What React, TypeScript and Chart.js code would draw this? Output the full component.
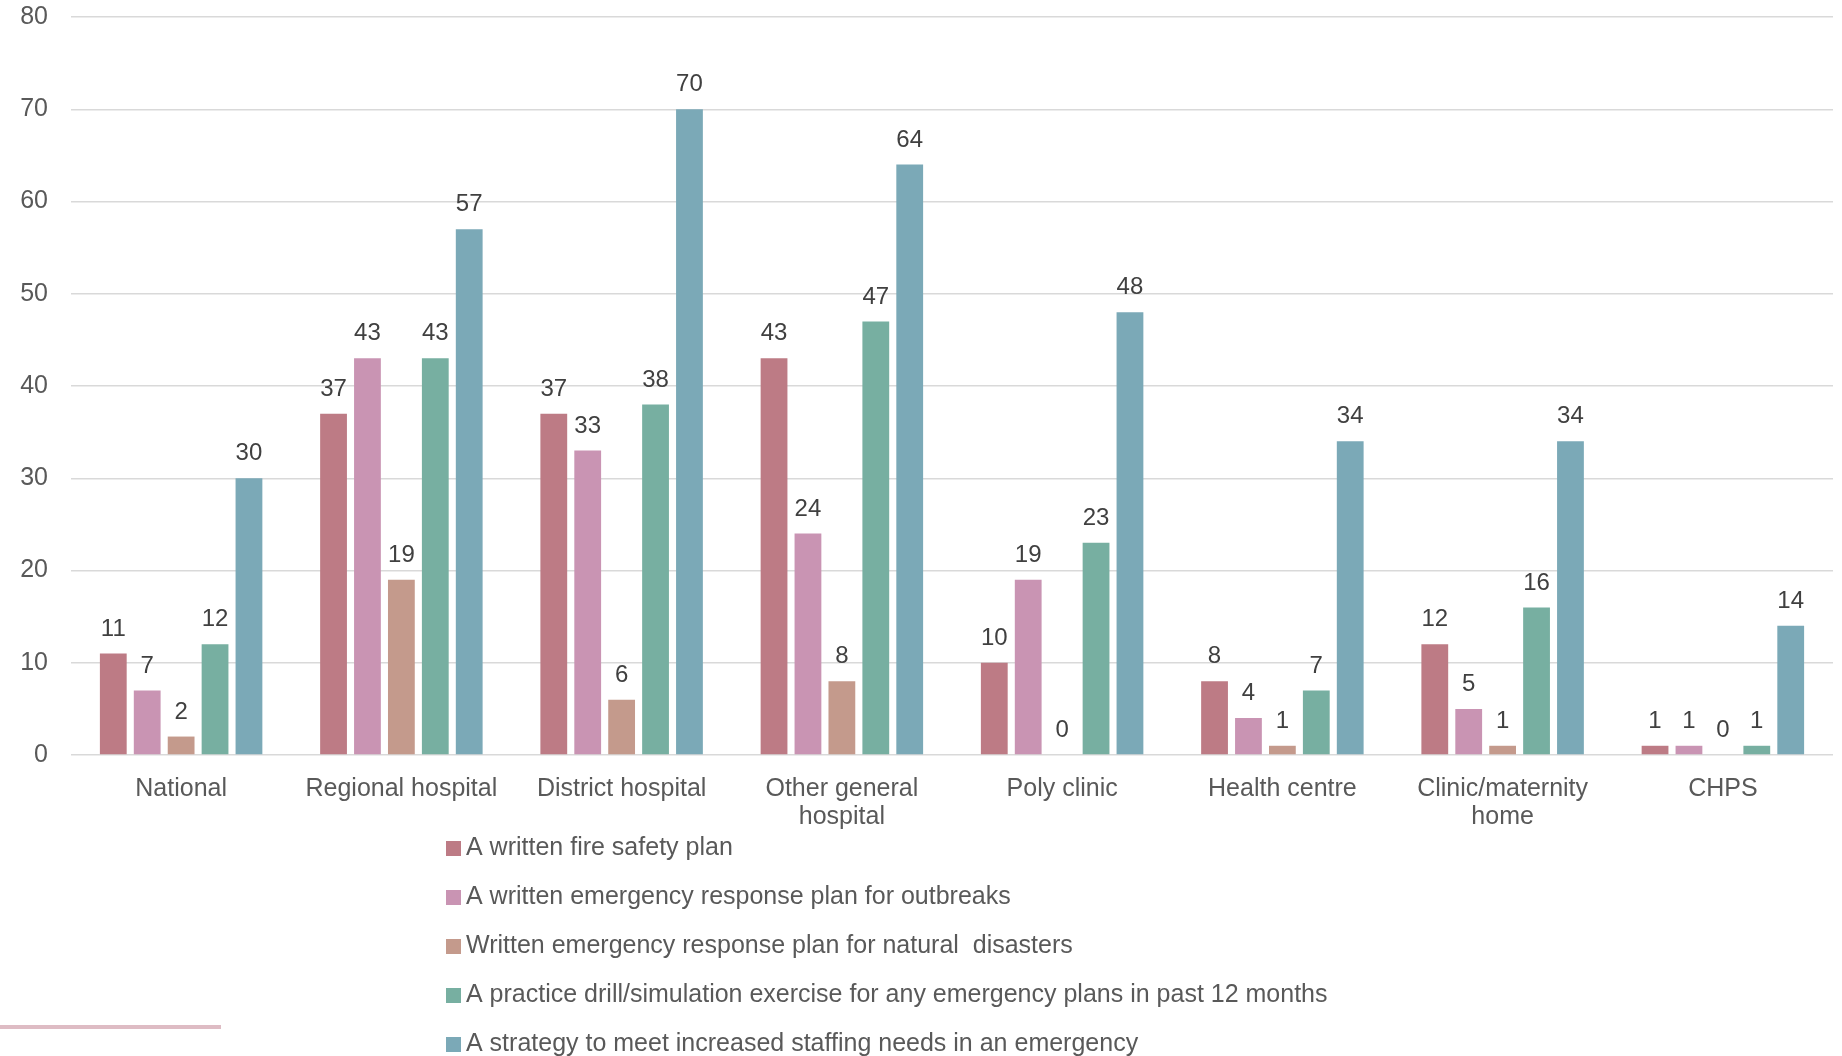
import React, { useEffect, useRef } from "react";
import { Chart, registerables } from "chart.js";

Chart.register(...registerables);

// Facility types (multi-line labels where the name wraps)
const categories: string[][] = [
  ["National"],
  ["Regional hospital"],
  ["District hospital"],
  ["Other general", "hospital"],
  ["Poly clinic"],
  ["Health centre"],
  ["Clinic/maternity", "home"],
  ["CHPS"],
];

// Series values per facility type
const firePlan = [11, 37, 37, 43, 10, 8, 12, 1];
const outbreakPlan = [7, 43, 33, 24, 19, 4, 5, 1];
const disasterPlan = [2, 19, 6, 8, 0, 1, 1, 0];
const practiceDrill = [12, 43, 38, 47, 23, 7, 16, 1];
const staffingStrategy = [30, 57, 70, 64, 48, 34, 34, 14];

const seriesNames = [
  "A written fire safety plan",
  "A written emergency response plan for outbreaks",
  "Written emergency response plan for natural  disasters",
  "A practice drill/simulation exercise for any emergency plans in past 12 months",
  "A strategy to meet increased staffing needs in an emergency",
];

const seriesColors = ["#BD7B85", "#C994B3", "#C49A8C", "#77AFA1", "#7BA9B7"];

const yMin = 0;
const yMax = 80;
const yStep = 10;

const FONT = "'Liberation Sans', Arial, sans-serif";

const valueLabels = {
  id: "valueLabels",
  afterDatasetsDraw(chart: any) {
    const ctx = chart.ctx;
    ctx.save();
    ctx.font = `24px ${FONT}`;
    ctx.fillStyle = "#404040";
    ctx.textAlign = "center";
    ctx.textBaseline = "middle";
    chart.data.datasets.forEach((ds: any, i: number) => {
      const meta = chart.getDatasetMeta(i);
      meta.data.forEach((bar: any, j: number) => {
        ctx.fillText(String(ds.data[j]), bar.x, bar.y - 24.5);
      });
    });
    ctx.restore();
  },
};

const listLegend = {
  id: "listLegend",
  afterDraw(chart: any) {
    const ctx = chart.ctx;
    ctx.save();
    ctx.font = `25px ${FONT}`;
    ctx.textBaseline = "middle";
    ctx.textAlign = "left";
    chart.data.datasets.forEach((ds: any, i: number) => {
      const cy = 848 + i * 49;
      ctx.fillStyle = ds.backgroundColor;
      ctx.fillRect(446, cy - 7, 15, 15);
      ctx.fillStyle = "#595959";
      ctx.fillText(ds.label, 466, cy);
    });
    ctx.restore();
  },
};

export default function App() {
  const canvasRef = useRef<HTMLCanvasElement | null>(null);

  useEffect(() => {
    if (!canvasRef.current) return;
    const seriesData = [firePlan, outbreakPlan, disasterPlan, practiceDrill, staffingStrategy];
    const chart = new Chart(canvasRef.current, {
      type: "bar",
      data: {
        labels: categories,
        datasets: seriesData.map((d, i) => ({
          label: seriesNames[i],
          data: d,
          backgroundColor: seriesColors[i],
          borderWidth: 0,
          categoryPercentage: 0.77,
          barPercentage: 0.79,
        })),
      },
      options: {
        responsive: false,
        animation: false,
        devicePixelRatio: 1,
        layout: { padding: { top: 17, right: 9, left: 0, bottom: 0 } },
        plugins: {
          legend: { display: false },
          tooltip: { enabled: false },
        },
        scales: {
          x: {
            grid: { display: false },
            border: { display: false },
            ticks: {
              font: { family: FONT, size: 25, lineHeight: 1.13 },
              color: "#595959",
              padding: 12,
              maxRotation: 0,
              autoSkip: false,
            },
            afterFit: (scale: any) => {
              scale.height = 301;
            },
          },
          y: {
            min: yMin,
            max: yMax,
            border: { display: false },
            grid: { color: "#D9D9D9", lineWidth: 1.5, drawTicks: false },
            ticks: {
              stepSize: yStep,
              font: { family: FONT, size: 25 },
              color: "#595959",
              padding: 23,
            },
            afterFit: (scale: any) => {
              scale.width = 71;
              scale.paddingTop = 0;
              scale.paddingBottom = 0;
            },
          },
        },
      },
      plugins: [valueLabels, listLegend],
    });
    return () => chart.destroy();
  }, []);

  return (
    <div style={{ position: "fixed", left: 0, top: 0, width: 1842, height: 1056, background: "#fff" }}>
      <canvas ref={canvasRef} width={1842} height={1056} style={{ display: "block" }} />
      <div
        style={{
          position: "absolute",
          left: 0,
          top: 1025,
          width: 221,
          height: 4,
          background: "#DEBCC4",
        }}
      />
    </div>
  );
}
